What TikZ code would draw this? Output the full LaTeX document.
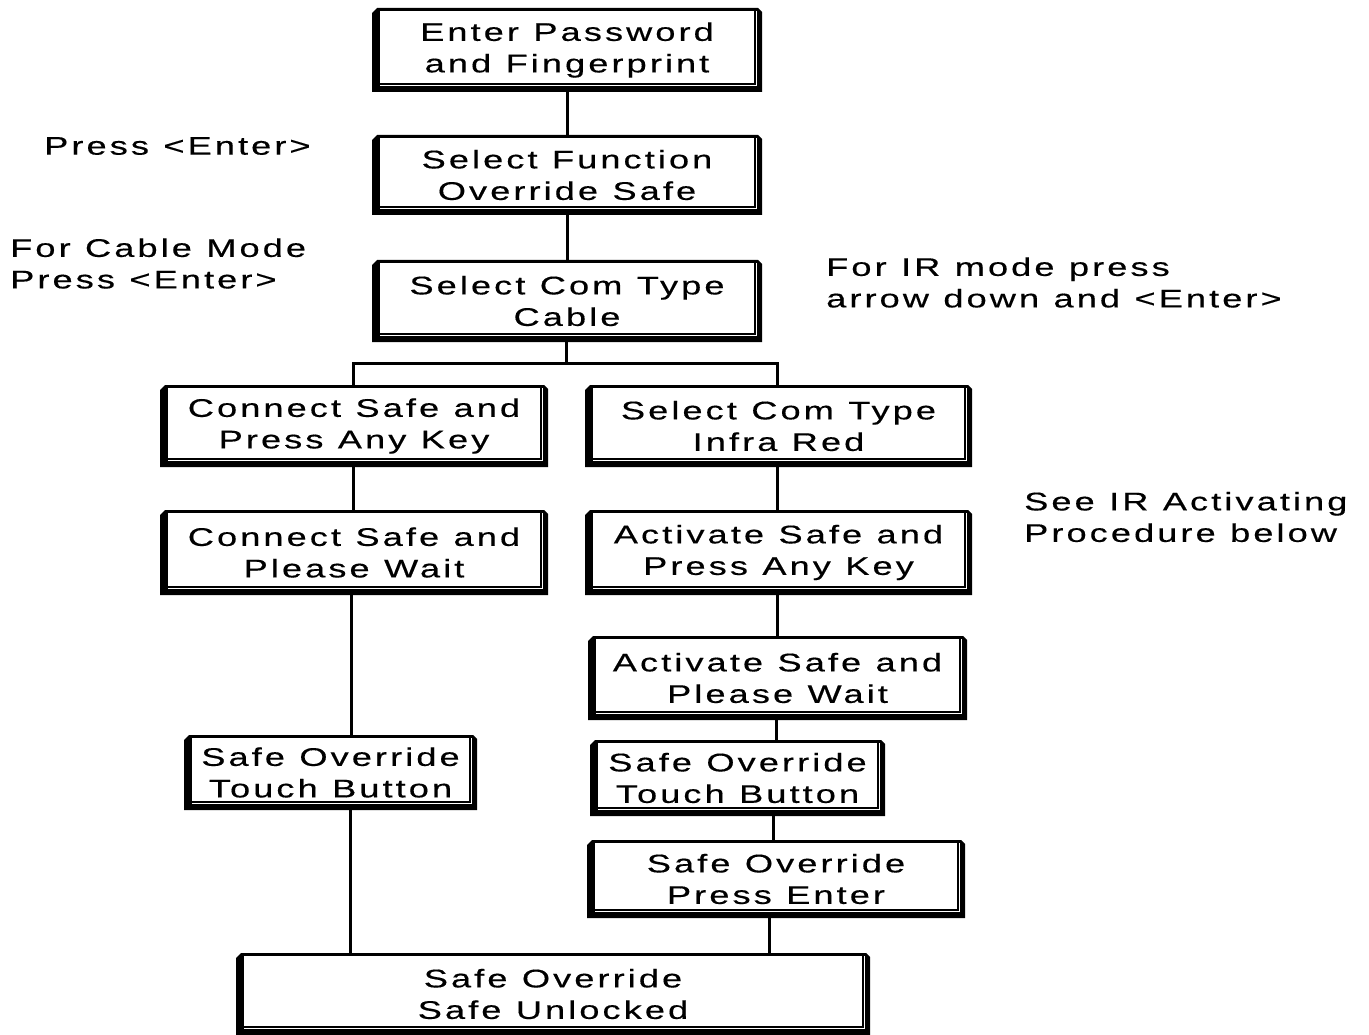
\documentclass[tikz,border=0pt]{standalone}
\usepackage{fontspec}
\newfontfamily\wide[FakeStretch=1.42,LetterSpace=12,WordSpace=1.1,FakeBold=0.4]{Liberation Sans}
\begin{document}
\begin{tikzpicture}[x=1pt,y=-1pt,
  conn/.style={line width=3pt},
  lbl/.style={font=\wide\fontsize{25.5}{31.5}\selectfont, align=left, anchor=west, inner sep=0pt},
  fbox/.style n args={2}{rectangle, inner sep=0pt, minimum width=#1pt, minimum height=#2pt,
    align=center, font=\wide\fontsize{25.5}{31.5}\selectfont,
    path picture={
      \fill[black] ([yshift=-5pt]path picture bounding box.north west)
        -- ([xshift=5pt]path picture bounding box.north west)
        -- ([xshift=-4pt]path picture bounding box.north east)
        -- ([yshift=-4pt]path picture bounding box.north east)
        -- (path picture bounding box.south east)
        -- (path picture bounding box.south west) -- cycle;
      \fill[white] ([xshift=8pt,yshift=-2.6pt]path picture bounding box.north west)
        rectangle ([xshift=-5pt,yshift=6pt]path picture bounding box.south east);
      \draw[line width=1.5pt] ([xshift=8pt,yshift=8pt]path picture bounding box.south west)
        -- ([xshift=-7pt,yshift=8pt]path picture bounding box.south east)
        -- ([xshift=-7pt,yshift=-2.6pt]path picture bounding box.north east);
    }}]
\useasboundingbox (0,0) rectangle (1369,1035);
\fill[white] (0,0) rectangle (1369,1035);

\node[fbox={390}{84}] (b1) at (567,50) {Enter Password\\and Fingerprint};
\node[fbox={390}{80}] (b2) at (567,175) {Select Function\\Override Safe};
\node[fbox={390}{82}] (b3) at (567,301) {Select Com Type\\Cable};
\node[fbox={388}{82}] (b4) at (354,426) {Connect Safe and\\Press Any Key};
\node[fbox={387}{82}] (b5) at (778.5,426) {Select Com Type\\Infra Red};
\node[fbox={388}{85}] (b6) at (354,552.5) {Connect Safe and\\Please Wait};
\node[fbox={387}{85}] (b7) at (778.5,552.5) {Activate Safe and\\Press Any Key};
\node[fbox={379}{84}] (b8) at (777.5,678) {Activate Safe and\\Please Wait};
\node[fbox={293}{75}] (b9) at (330.5,772.5) {Safe Override\\Touch Button};
\node[fbox={295}{76}] (b10) at (737.5,778) {Safe Override\\Touch Button};
\node[fbox={378}{78}] (b11) at (776,879) {Safe Override\\Press Enter};
\node[fbox={634}{82}] (b12) at (553,994) {Safe Override\\Safe Unlocked};

\node[lbl] (t1) at (44,146) {Press <Enter>};
\node[lbl] (t2) at (10,263.5) {For Cable Mode\\Press <Enter>};
\node[lbl] (t3) at (826,282.5) {For IR mode press\\arrow down and <Enter>};
\node[lbl] (t4) at (1024,517) {See IR Activating\\Procedure below};

\coordinate (j) at (566,363);
\draw[conn] (b1.south) -- (b2.north);
\draw[conn] (b2.south) -- (b3.north);
\draw[conn] (566,0 |- b3.south) -- (j);
\draw[conn] (353,0 |- b4.north) -- (353,363) -- (777,363) -- (777,0 |- b5.north);
\draw[conn] (353,0 |- b4.south) -- (353,0 |- b6.north);
\draw[conn] (777,0 |- b5.south) -- (777,0 |- b7.north);
\draw[conn] (351,0 |- b6.south) -- (351,0 |- b9.north);
\draw[conn] (777,0 |- b7.south) -- (777,0 |- b8.north);
\draw[conn] (776,0 |- b8.south) -- (776,0 |- b10.north);
\draw[conn] (773,0 |- b10.south) -- (773,0 |- b11.north);
\draw[conn] (769,0 |- b11.south) -- (769,0 |- b12.north);
\draw[conn] (350,0 |- b9.south) -- (350,0 |- b12.north);
\end{tikzpicture}
\end{document}
